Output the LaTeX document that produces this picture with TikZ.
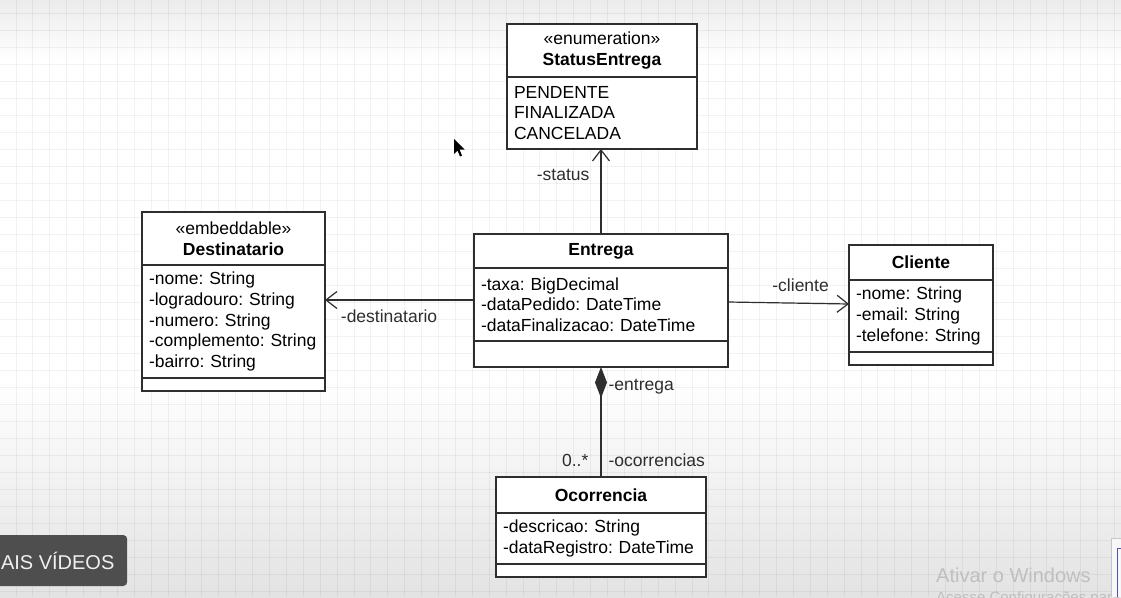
\documentclass[tikz,border=0pt]{standalone}
\usepackage{fontspec}
\setmainfont{Liberation Sans}
\usepackage{tikz}
\usetikzlibrary{arrows.meta,positioning}
\frenchspacing
\definecolor{umlline}{HTML}{2E2E2E}
\definecolor{btngray}{HTML}{4E4E4E}
\newcommand{\umlfont}{\fontsize{17.5}{20.6}\selectfont}
\tikzset{
  umlhead/.style={draw=umlline,line width=1.2pt,fill=white,align=center,inner sep=0pt,outer sep=0pt,font=\umlfont},
  umlattr/.style={draw=umlline,line width=1.2pt,fill=white,align=left,inner xsep=7pt,inner ysep=0pt,outer sep=0pt,font=\umlfont},
  umlops/.style={draw=umlline,line width=1.2pt,fill=white,inner sep=0pt,outer sep=0pt},
  assoc/.style={-{Straight Barb[length=11pt,width=17pt]},line width=1.2pt,draw=umlline},
  compo/.style={{Diamond[length=31pt,width=12pt]}-,line width=1.2pt,draw=umlline},
  rolelabel/.style={font=\umlfont,inner sep=2pt,text=umlline},
  gridline/.style={draw=black,draw opacity=0.05,line width=0.9pt}
}

\begin{document}
\begin{tikzpicture}[x=1pt,y=-1pt]
  \useasboundingbox (0,0) rectangle (1121,597);
  \clip (0,0) rectangle (1121,597);
  \fill[white] (0,0) rectangle (1121,597);
  \shade[top color=gray!15,bottom color=white] (0,0) rectangle (1121,60);
  \shade[top color=white,bottom color=gray!22] (0,380) rectangle (1121,597);
  \foreach \i in {0,...,66} \draw[gridline] ({16+16.9*\i},0) -- ({16+16.9*\i},597);
  \foreach \j in {0,...,34} \draw[gridline] (0,{13.5+17*\j}) -- (1121,{13.5+17*\j});

  \node[umlhead,minimum width=190,minimum height=53] (status) at (602,50.5) {«enumeration»\\\textbf{StatusEntrega}};
  \node[umlattr,below=0pt of status,text width=176,minimum height=72] (status-attr) {PENDENTE\\FINALIZADA\\CANCELADA};

  \node[umlhead,minimum width=183,minimum height=53] (dest) at (233.5,238.5) {«embeddable»\\\textbf{Destinatario}};
  \node[umlattr,below=0pt of dest,text width=169,minimum height=113] (dest-attr) {-nome: String\\-logradouro: String\\-numero: String\\-complemento: String\\-bairro: String};
  \node[umlops,below=0pt of dest-attr,minimum width=183,minimum height=13] (dest-ops) {};

  \node[umlhead,minimum width=254,minimum height=34] (entrega) at (601,251) {\textbf{Entrega}};
  \node[umlattr,below=0pt of entrega,text width=240,minimum height=73] (entrega-attr) {-taxa: BigDecimal\\-dataPedido: DateTime\\-dataFinalizacao: DateTime};
  \node[umlops,below=0pt of entrega-attr,minimum width=254,minimum height=26] (entrega-ops) {};

  \node[umlhead,minimum width=144,minimum height=35] (cliente) at (921,262.5) {\textbf{Cliente}};
  \node[umlattr,below=0pt of cliente,text width=130,minimum height=72] (cliente-attr) {-nome: String\\-email: String\\-telefone: String};
  \node[umlops,below=0pt of cliente-attr,minimum width=144,minimum height=13] (cliente-ops) {};

  \node[umlhead,minimum width=210,minimum height=36] (ocor) at (601,495) {\textbf{Ocorrencia}};
  \node[umlattr,below=0pt of ocor,text width=196,minimum height=51] (ocor-attr) {-descricao: String\\-dataRegistro: DateTime};
  \node[umlops,below=0pt of ocor-attr,minimum width=210,minimum height=13] (ocor-ops) {};

  \draw[assoc] (entrega.north) -- (entrega.north |- status-attr.south) node[rolelabel,pos=0.69,left=9pt] {-status};
  \draw[assoc] ([yshift=4.5pt]entrega-attr.west) -- ([yshift=21.5pt]dest-attr.east) node[rolelabel,pos=0.57,below=7pt] {-destinatario};
  \draw[assoc] ([yshift=2.5pt]entrega-attr.east) -- ([yshift=12pt]cliente-attr.west) node[rolelabel,pos=0.6,above=9pt] {-cliente};
  \draw[compo] (entrega-ops.south) -- (ocor.north)
    node[rolelabel,pos=0.18,right=5pt] {-entrega}
    node[rolelabel,pos=0.85,left=10pt] {0..*}
    node[rolelabel,pos=0.85,right=5pt] {-ocorrencias};

  \fill[black] (454,139) -- (454,154) -- (457.5,150.5) -- (460,156.5) -- (462,155.5) -- (459.5,149.5) -- (464.5,149.5) -- cycle;

  \node[fill=btngray,rounded corners=4pt,text=white!94!black,font=\fontsize{20}{24}\selectfont,minimum width=139,minimum height=51,inner xsep=10pt,anchor=west] (maisvideos) at (-12,560.5) {AIS VÍDEOS};
  \node[text=gray!50,font=\fontsize{20}{22}\selectfont,inner sep=0pt,anchor=west] (ativar) at (936,575) {Ativar o Windows};
  \node[text=gray!50,font=\fontsize{15}{17}\selectfont,inner sep=0pt,anchor=west] (acesse) at (936,599) {Acesse Configurações para ativar o Windows.};
  \fill[gray!6] (1111,538) rectangle (1121,597);
  \draw[gray!45] (1111,597) |- (1121,538);
  \draw[blue!35!gray,line width=1pt] (1117,597) |- (1121,548);
\end{tikzpicture}
\end{document}
